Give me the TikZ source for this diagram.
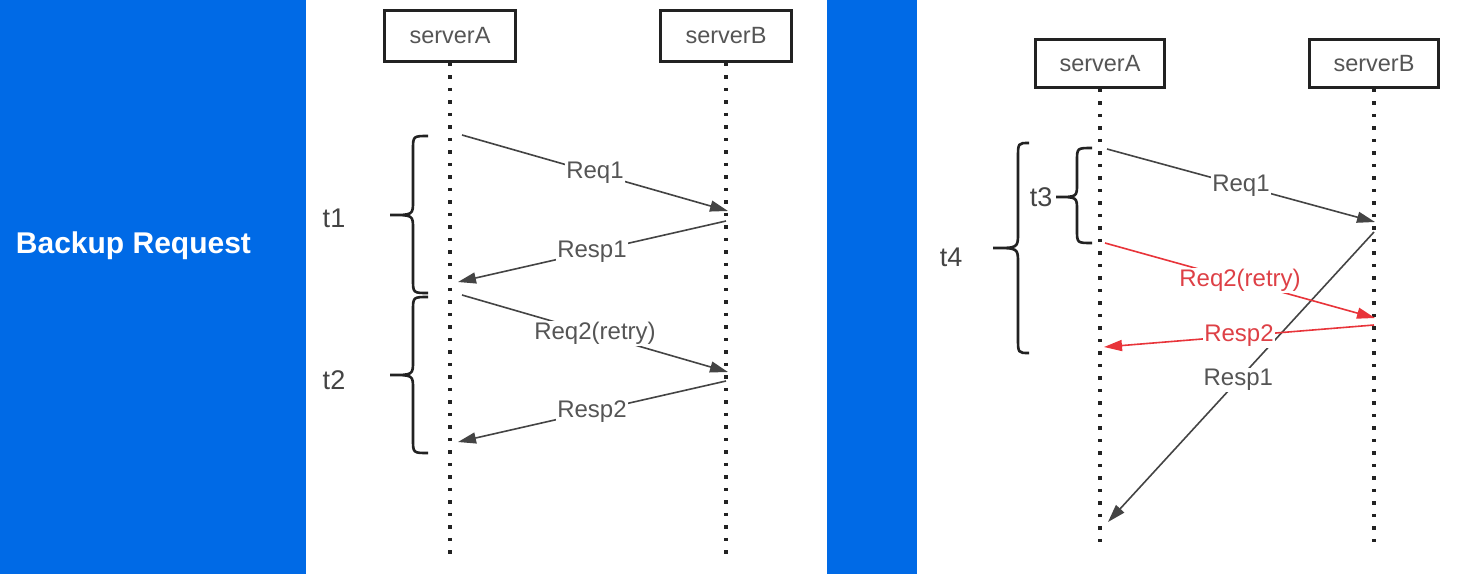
\documentclass[tikz,border=0pt]{standalone}
\usepackage{fontspec}
\setmainfont{Liberation Sans}
\usetikzlibrary{arrows.meta}
\definecolor{bgblue}{RGB}{0,106,230}
\definecolor{ink}{RGB}{68,68,68}
\definecolor{boxink}{RGB}{34,34,34}
\definecolor{lbl}{RGB}{85,85,85}
\definecolor{redline}{RGB}{232,52,58}
\definecolor{redlbl}{RGB}{222,64,70}
\begin{document}
\begin{tikzpicture}[x=1pt,y=-1pt,
  server/.style={draw=boxink, line width=2.6pt, minimum width=131pt, minimum height=51pt,
    font=\fontsize{23.5}{25}\selectfont, text=lbl, inner sep=0pt},
  serversm/.style={server, minimum width=129pt, minimum height=48pt},
  life/.style={draw=boxink, line width=3.5pt, dash pattern=on 3.5pt off 9pt},
  msg/.style={draw=ink, line width=1.6pt, -{Triangle[length=18pt,width=11pt]}},
  redmsg/.style={msg, draw=redline},
  lab/.style={fill=white, inner sep=1pt, font=\fontsize{24}{26}\selectfont, text=lbl},
  redlab/.style={lab, text=redlbl},
  brc/.style={draw=boxink, line width=2.6pt},
  tlab/.style={font=\fontsize{27}{29}\selectfont, text=ink}
]
\useasboundingbox (0,0) rectangle (1462,574);
% background panels
\fill[white] (0,0) rectangle (1462,574);
\fill[bgblue] (0,0) rectangle (306,574);
\fill[bgblue] (827,0) rectangle (917,574);
\node[anchor=base, text=white, font=\fontsize{30}{32}\selectfont\bfseries] (title) at (133.5,253) {Backup Request};

% ---------------- left diagram ----------------
\node[server] (lA) at (450,36) {serverA};
\node[server] (lB) at (726,36) {serverB};
\coordinate (lAend) at (450,556);
\coordinate (lBend) at (726,556);
\draw[life] (lA.south) -- (lAend);
\draw[life] (lB.south) -- (lBend);

\coordinate (la1) at (462,135);
\coordinate (lb1) at (728,211);
\coordinate (lb2) at (726,221);
\coordinate (la2) at (458,282);
\coordinate (la3) at (462,295);
\coordinate (lb3) at (728,372);
\coordinate (lb4) at (726,381);
\coordinate (la4) at (458,442);
\draw[msg] (la1) -- node[lab] (lreq1) {Req1} (lb1);
\draw[msg] (lb2) -- node[lab] (lresp1) {Resp1} (la2);
\draw[msg] (la3) -- node[lab] (lreq2) {Req2(retry)} (lb3);
\draw[msg] (lb4) -- node[lab] (lresp2) {Resp2} (la4);

% braces t1, t2
\draw[brc] (428,136) .. controls (413,136) .. (413,150) -- (413,201)
  .. controls (413,215) .. (390,215) .. controls (413,215) .. (413,229)
  -- (413,279) .. controls (413,293) .. (428,293);
\draw[brc] (428,297) .. controls (413,297) .. (413,311) -- (413,361)
  .. controls (413,375) .. (390,375) .. controls (413,375) .. (413,389)
  -- (413,439) .. controls (413,453) .. (428,453);
\node[tlab] (t1) at (334,218) {t1};
\node[tlab] (t2) at (334,380) {t2};

% ---------------- right diagram ----------------
\node[serversm] (rA) at (1100,63.5) {serverA};
\node[serversm] (rB) at (1374,63.5) {serverB};
\coordinate (rAend) at (1100,542);
\coordinate (rBend) at (1374,542);
\draw[life] (rA.south) -- (rAend);
\draw[life] (rB.south) -- (rBend);

\coordinate (ra1) at (1107,149);
\coordinate (rb1) at (1375,222);
\coordinate (rb5) at (1374,232);
\coordinate (ra5) at (1108,522);
\coordinate (ra2) at (1105,243);
\coordinate (rb2) at (1375,318);
\coordinate (rb3) at (1374,325);
\coordinate (ra3) at (1104,347);
\draw[msg] (ra1) -- node[lab] (rreq1) {Req1} (rb1);
\draw[msg] (rb5) -- node[lab, pos=0.51] (rresp1) {Resp1} (ra5);
\draw[redmsg] (ra2) -- node[redlab] (rreq2) {Req2(retry)} (rb2);
\draw[redmsg] (rb3) -- node[redlab] (rresp2) {Resp2} (ra3);

% braces t3, t4
\draw[brc] (1092,148) .. controls (1077,148) .. (1077,161) -- (1077,184)
  .. controls (1077,197) .. (1056,197) .. controls (1077,197) .. (1077,210)
  -- (1077,230) .. controls (1077,243) .. (1092,243);
\draw[brc] (1029,143) .. controls (1018,143) .. (1018,158) -- (1018,233)
  .. controls (1018,248) .. (993,248) .. controls (1018,248) .. (1018,263)
  -- (1018,338) .. controls (1018,353) .. (1029,353);
\node[tlab] (t3) at (1041,197) {t3};
\node[tlab] (t4) at (951,257) {t4};
\end{tikzpicture}
\end{document}
